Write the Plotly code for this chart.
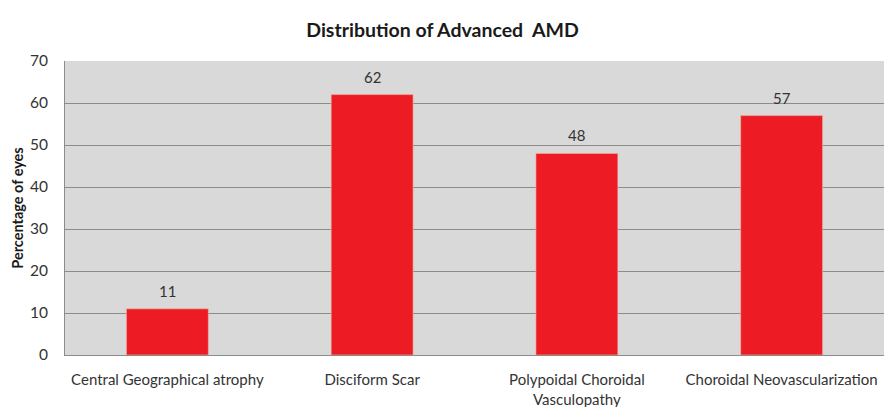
import plotly.graph_objects as go

categories = [
    "Central Geographical atrophy",
    "Disciform Scar",
    "Polypoidal Choroidal<br>Vasculopathy",
    "Choroidal Neovascularization",
]
percent_eyes = [11, 62, 48, 57]
y_ticks = [0, 10, 20, 30, 40, 50, 60, 70]

FONT = "Lato, 'Open Sans', sans-serif"
GRID = "#8c8c8c"
TEXT = "#333333"

fig = go.Figure(
    go.Bar(
        x=categories,
        y=percent_eyes,
        marker=dict(color="#ED1C24", line=dict(color="#f0b8a0", width=0.6)),
        cliponaxis=False,
    )
)

# value labels sitting a little above each bar
for cat, val in zip(categories, percent_eyes):
    fig.add_annotation(
        x=cat,
        y=val,
        text=str(val),
        showarrow=False,
        yanchor="bottom",
        yshift=7,
        font=dict(family=FONT, size=15, color=TEXT),
    )

fig.update_layout(
    width=885,
    height=407,
    margin=dict(l=65, r=1, t=61, b=52),
    paper_bgcolor="white",
    plot_bgcolor="#D9D9D9",
    bargap=0.6,
    showlegend=False,
    title=dict(
        text="<b>Distribution of Advanced  AMD</b>",
        x=0.5,
        xanchor="center",
        y=0.925,
        yanchor="middle",
        font=dict(family=FONT, size=19.5, color="#1a1a1a"),
    ),
    font=dict(family=FONT, size=15, color=TEXT),
)

fig.update_yaxes(
    range=[0, 70],
    tickvals=y_ticks,
    automargin=False,
    showgrid=True,
    gridcolor=GRID,
    gridwidth=1,
    zeroline=False,
    showline=True,
    linecolor=GRID,
    linewidth=1,
    ticks="",
    ticklabelstandoff=13,
    tickfont=dict(family=FONT, size=15.5, color=TEXT),
    title=dict(
        text="<b>Percentage of eyes</b>",
        font=dict(family=FONT, size=14.5, color="#1a1a1a"),
        standoff=2,
    ),
)

fig.update_xaxes(
    automargin=False,
    showgrid=False,
    showline=True,
    linecolor=GRID,
    linewidth=1,
    ticks="",
    tickangle=0,
    ticklabelstandoff=11,
    tickfont=dict(family=FONT, size=15, color=TEXT),
)

fig.write_html("out.html")
